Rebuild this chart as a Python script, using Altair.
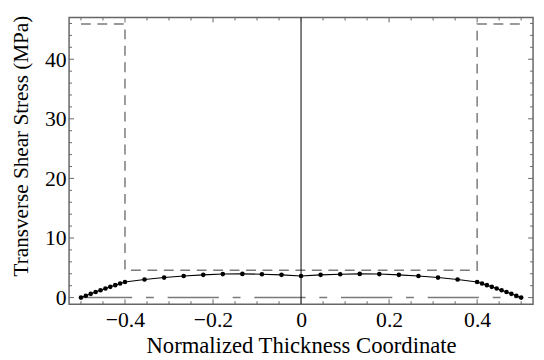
import altair as alt
import pandas as pd

# ---- data ----
z = [-0.5, -0.4889, -0.4778, -0.4667, -0.4556, -0.4444, -0.4333, -0.4222, -0.4111, -0.4,
     -0.3556, -0.3111, -0.2667, -0.2222, -0.1778, -0.1333, -0.0889, -0.0444, 0.0,
     0.0444, 0.0889, 0.1333, 0.1778, 0.2222, 0.2667, 0.3111, 0.3556,
     0.4, 0.4111, 0.4222, 0.4333, 0.4444, 0.4556, 0.4667, 0.4778, 0.4889, 0.5]
tau = [0.0, 0.32, 0.63, 0.94, 1.24, 1.53, 1.81, 2.09, 2.36, 2.62,
       3.03, 3.36, 3.62, 3.82, 3.95, 3.98, 3.93, 3.82, 3.62,
       3.82, 3.93, 3.98, 3.95, 3.82, 3.62, 3.36, 3.03,
       2.62, 2.36, 2.09, 1.81, 1.53, 1.24, 0.94, 0.63, 0.32, 0.0]

step_z = [-0.5, -0.4, -0.4, 0.4, 0.4, 0.5]
step_v = [45.9, 45.9, 4.6, 4.6, 45.9, 45.9]

zero_z = [-0.5, 0.5]
zero_v = [0.0, 0.0]

x_major = [-0.4, -0.2, 0.0, 0.2, 0.4]
x_minor = [-0.5, -0.45, -0.35, -0.3, -0.25, -0.15, -0.1, -0.05,
           0.05, 0.1, 0.15, 0.25, 0.3, 0.35, 0.45, 0.5]
y_major = [0, 10, 20, 30, 40]
y_minor = [2, 4, 6, 8, 12, 14, 16, 18, 22, 24, 26, 28, 32, 34, 36, 38, 42, 44, 46]

W, H = 471, 291
FONT = "'Liberation Serif', 'Times New Roman', Times, serif"
GRAY = "#7a7a7a"
FRAME = "#666666"

xs = alt.Scale(domain=[-0.527, 0.527], nice=False, zero=False)
ys = alt.Scale(domain=[-1.1, 47], nice=False, zero=False)

x_axis = alt.Axis(values=x_major, format=".1~f", grid=False, ticks=False, domain=False,
                  labelFont=FONT, labelFontSize=22, labelColor="black",
                  labelBaseline="alphabetic", labelPadding=23,
                  title="Normalized Thickness Coordinate", titleFont=FONT,
                  titleFontSize=23, titleFontWeight="normal", titleColor="black",
                  titleX=235.5, titleY=49, titleBaseline="alphabetic", titleAlign="center")
y_axis = alt.Axis(values=y_major, format="d", grid=False, ticks=False, domain=False,
                  labelFont=FONT, labelFontSize=22, labelColor="black", labelPadding=3,
                  title="Transverse Shear Stress (MPa)", titleFont=FONT,
                  titleFontSize=21.5, titleFontWeight="normal", titleColor="black",
                  titleX=-42, titleY=130, titleBaseline="alphabetic", titleAlign="center")

def X(f):
    return alt.X(f"{f}:Q", scale=xs, axis=x_axis)

def Y(f):
    return alt.Y(f"{f}:Q", scale=ys, axis=y_axis)

curve_df = pd.DataFrame({"z": z, "tau": tau, "i": list(range(len(z)))})
step_df = pd.DataFrame({"z": step_z, "tau": step_v, "i": list(range(len(step_z)))})
zero_df = pd.DataFrame({"z": zero_z, "tau": zero_v})

layers = []

# dashed strength step line
layers.append(alt.Chart(step_df).mark_line(color=GRAY, strokeWidth=1.5, strokeDash=[10, 6.7])
              .encode(x=X("z"), y=Y("tau"), order="i:Q"))
# long-dash line at zero
layers.append(alt.Chart(zero_df).mark_line(color=GRAY, strokeWidth=1.5, strokeDash=[52, 14, 8, 14])
              .encode(x=X("z"), y=Y("tau")))
# vertical axis at x = 0
layers.append(alt.Chart(pd.DataFrame({"z": [0.0]})).mark_rule(color="black", strokeWidth=1)
              .encode(x=X("z"), y=alt.value(0), y2=alt.value(H)))
# curve
layers.append(alt.Chart(curve_df).mark_line(color="black", strokeWidth=1.1)
              .encode(x=X("z"), y=Y("tau"), order="i:Q"))
layers.append(alt.Chart(curve_df).mark_circle(color="black", opacity=1, size=22)
              .encode(x=X("z"), y=Y("tau")))

# frame ticks (inward)
for vals, L in [(x_major, 5), (x_minor, 3)]:
    d = pd.DataFrame({"z": vals})
    layers.append(alt.Chart(d).mark_rule(color=FRAME, strokeWidth=1)
                  .encode(x=X("z"), y=alt.value(H), y2=alt.value(H - L)))
    layers.append(alt.Chart(d).mark_rule(color=FRAME, strokeWidth=1)
                  .encode(x=X("z"), y=alt.value(0), y2=alt.value(L)))
for vals, L in [(y_major, 5), (y_minor, 3)]:
    d = pd.DataFrame({"tau": vals})
    layers.append(alt.Chart(d).mark_rule(color=FRAME, strokeWidth=1)
                  .encode(y=Y("tau"), x=alt.value(0), x2=alt.value(L)))
    layers.append(alt.Chart(d).mark_rule(color=FRAME, strokeWidth=1)
                  .encode(y=Y("tau"), x=alt.value(W), x2=alt.value(W - L)))

chart = alt.layer(*layers).properties(
    width=W, height=H,
    autosize=alt.AutoSizeParams(type="none"),
    padding={"left": 62, "top": 7, "right": 3, "bottom": 52},
    background="white",
).configure_view(stroke=FRAME, strokeWidth=1.5)

chart.save("out.html", embed_options={"renderer": "svg", "actions": False})
